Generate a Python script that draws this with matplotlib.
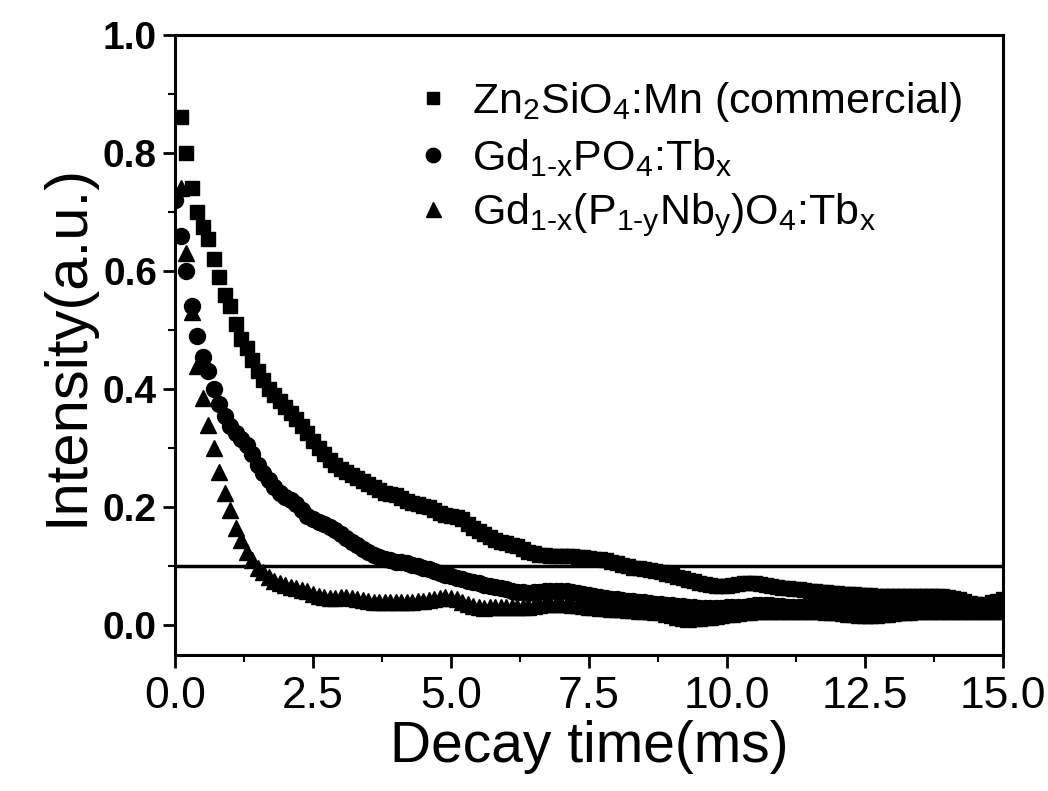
import numpy as np
import matplotlib
matplotlib.use("Agg")
import matplotlib.pyplot as plt
from matplotlib.ticker import MultipleLocator

plt.rcParams['font.family'] = ['Liberation Sans', 'DejaVu Sans']
plt.rcParams['mathtext.fontset'] = 'custom'
plt.rcParams['mathtext.rm'] = 'Liberation Sans'
plt.rcParams['mathtext.default'] = 'regular'

# decay time (ms), sampled every 0.1 ms
time_ms = [0.0, 0.1, 0.2, 0.3, 0.4, 0.5, 0.6, 0.7, 0.8, 0.9,
           1.0, 1.1, 1.2, 1.3, 1.4, 1.5, 1.6, 1.7, 1.8, 1.9,
           2.0, 2.1, 2.2, 2.3, 2.4, 2.5, 2.6, 2.7, 2.8, 2.9,
           3.0, 3.1, 3.2, 3.3, 3.4, 3.5, 3.6, 3.7, 3.8, 3.9,
           4.0, 4.1, 4.2, 4.3, 4.4, 4.5, 4.6, 4.7, 4.8, 4.9,
           5.0, 5.1, 5.2, 5.3, 5.4, 5.5, 5.6, 5.7, 5.8, 5.9,
           6.0, 6.1, 6.2, 6.3, 6.4, 6.5, 6.6, 6.7, 6.8, 6.9,
           7.0, 7.1, 7.2, 7.3, 7.4, 7.5, 7.6, 7.7, 7.8, 7.9,
           8.0, 8.1, 8.2, 8.3, 8.4, 8.5, 8.6, 8.7, 8.8, 8.9,
           9.0, 9.1, 9.2, 9.3, 9.4, 9.5, 9.6, 9.7, 9.8, 9.9,
           10.0, 10.1, 10.2, 10.3, 10.4, 10.5, 10.6, 10.7, 10.8, 10.9,
           11.0, 11.1, 11.2, 11.3, 11.4, 11.5, 11.6, 11.7, 11.8, 11.9,
           12.0, 12.1, 12.2, 12.3, 12.4, 12.5, 12.6, 12.7, 12.8, 12.9,
           13.0, 13.1, 13.2, 13.3, 13.4, 13.5, 13.6, 13.7, 13.8, 13.9,
           14.0, 14.1, 14.2, 14.3, 14.4, 14.5, 14.6, 14.7, 14.8, 14.9,
           15.0]

zn2sio4 = [np.nan, .86, .80, .74, .70, .675, .655, .62, .59, .56,
           .54, .51, .485, .47, .45, .43, .415, .40, .39, .38,
           .37, .36, .35, .337, .325, .312, .30, .29, .28, .272,
           .265, .26, .255, .25, .245, .24, .235, .23, .225, .222,
           .22, .215, .21, .207, .205, .202, .20, .195, .19, .187,
           .185, .183, .18, .172, .165, .16, .155, .15, .145, .142,
           .14, .137, .135, .13, .125, .122, .12, .119, .118, .118,
           .118, .118, .117, .116, .115, .114, .113, .112, .11, .107,
           .105, .102, .10, .098, .097, .095, .093, .092, .09, .087,
           .085, .082, .08, .077, .075, .072, .07, .068, .067, .066,
           .066, .068, .07, .071, .072, .071, .07, .068, .066, .065,
           .064, .063, .062, .061, .06, .059, .058, .057, .056, .055,
           .055, .054, .054, .053, .052, .051, .051, .05, .05, .05,
           .05, .05, .05, .05, .05, .05, .05, .05, .049, .049,
           .048, .047, .045, .042, .038, .036, .035, .037, .04, .042,
           .044]

gdpo4 = [.72, .66, .60, .54, .49, .455, .43, .40, .375, .355,
         .337, .325, .315, .305, .29, .272, .258, .246, .235, .225,
         .218, .212, .205, .195, .185, .18, .175, .171, .167, .161,
         .155, .148, .142, .136, .13, .125, .12, .116, .113, .11,
         .108, .107, .105, .102, .10, .098, .095, .092, .088, .085,
         .083, .08, .078, .075, .073, .071, .069, .067, .065, .063,
         .061, .059, .057, .056, .055, .056, .057, .058, .058, .059,
         .059, .058, .057, .055, .054, .052, .05, .048, .047, .045,
         .044, .043, .042, .041, .04, .039, .038, .037, .036, .035,
         .034, .033, .033, .032, .031, .03, .03, .03, .03, .03,
         .031, .031, .032, .032, .033, .034, .034, .034, .034, .033,
         .033, .032, .032, .031, .031, .031, .031, .032, .032, .033,
         .033, .033, .033, .033, .033, .032, .032, .032, .032, .033,
         .033, .034, .034, .034, .034, .034, .034, .033, .033, .032,
         .032, .031, .031, .03, .03, .03, .03, .03, .03, .031,
         .032]

gdpnbo4 = [np.nan, .74, .63, .53, .44, .385, .34, .30, .26, .225,
           .195, .165, .145, .125, .11, .098, .09, .082, .076, .072,
           .068, .065, .063, .06, .058, .054, .05, .048, .047, .047,
           .048, .048, .047, .045, .043, .041, .04, .04, .04, .04,
           .04, .04, .04, .04, .041, .042, .043, .045, .047, .048,
           .047, .044, .04, .036, .033, .031, .03, .031, .032, .032,
           .032, .032, .031, .031, .032, .033, .035, .036, .037, .037,
           .037, .036, .035, .034, .033, .032, .031, .03, .029, .028,
           .027, .027, .026, .026, .025, .025, .024, .023, .022, .02,
           .018, .015, .012, .011, .012, .013, .014, .015, .016, .018,
           .019, .02, .021, .022, .023, .024, .024, .025, .025, .025,
           .025, .025, .025, .025, .025, .025, .024, .024, .023, .022,
           .022, .021, .02, .019, .018, .018, .018, .018, .019, .02,
           .021, .022, .023, .023, .024, .024, .024, .025, .025, .025,
           .025, .025, .025, .025, .025, .025, .024, .024, .024, .024,
           .024]

labels = [r'Zn$_2$SiO$_4$:Mn (commercial)',
          r'Gd$_{1\text{-}x}$PO$_4$:Tb$_x$',
          r'Gd$_{1\text{-}x}$(P$_{1\text{-}y}$Nb$_y$)O$_4$:Tb$_x$']
threshold = 0.1

fig = plt.figure(figsize=(10.48, 7.91), dpi=100)
ax = fig.add_axes([0.167, 0.172, 0.79, 0.784])

ax.plot(time_ms, zn2sio4, 's', color='black', markersize=10, label=labels[0])
ax.plot(time_ms, gdpo4, 'o', color='black', markersize=11.5, label=labels[1])
ax.plot(time_ms, gdpnbo4, '^', color='black', markersize=12, label=labels[2])
ax.axhline(threshold, color='black', linewidth=2.5)

ax.set_xlim(0, 15)
ax.set_ylim(-0.05, 1.0)
ax.xaxis.set_major_locator(MultipleLocator(2.5))
ax.xaxis.set_minor_locator(MultipleLocator(1.25))
ax.yaxis.set_major_locator(MultipleLocator(0.2))
ax.yaxis.set_minor_locator(MultipleLocator(0.1))
ax.tick_params(which='major', direction='out', length=9, width=2)
ax.tick_params(which='minor', direction='out', length=5, width=1.5)
ax.tick_params(axis='x', labelsize=32, pad=6)
ax.tick_params(axis='y', labelsize=28, pad=4)
for lab in ax.get_yticklabels():
    lab.set_fontweight('bold')
for sp in ax.spines.values():
    sp.set_linewidth(2.2)

ax.set_xlabel('Decay time(ms)', fontsize=41, labelpad=2)
ax.set_ylabel('Intensity(a.u.)', fontsize=43, labelpad=6)

ax.legend(loc='upper left', bbox_to_anchor=(0.265, 0.955), frameon=False,
          fontsize=31, handletextpad=0.4, labelspacing=0.3,
          handlelength=1.0, borderaxespad=0, markerscale=0.9)

fig.savefig('out.png', dpi=100)
